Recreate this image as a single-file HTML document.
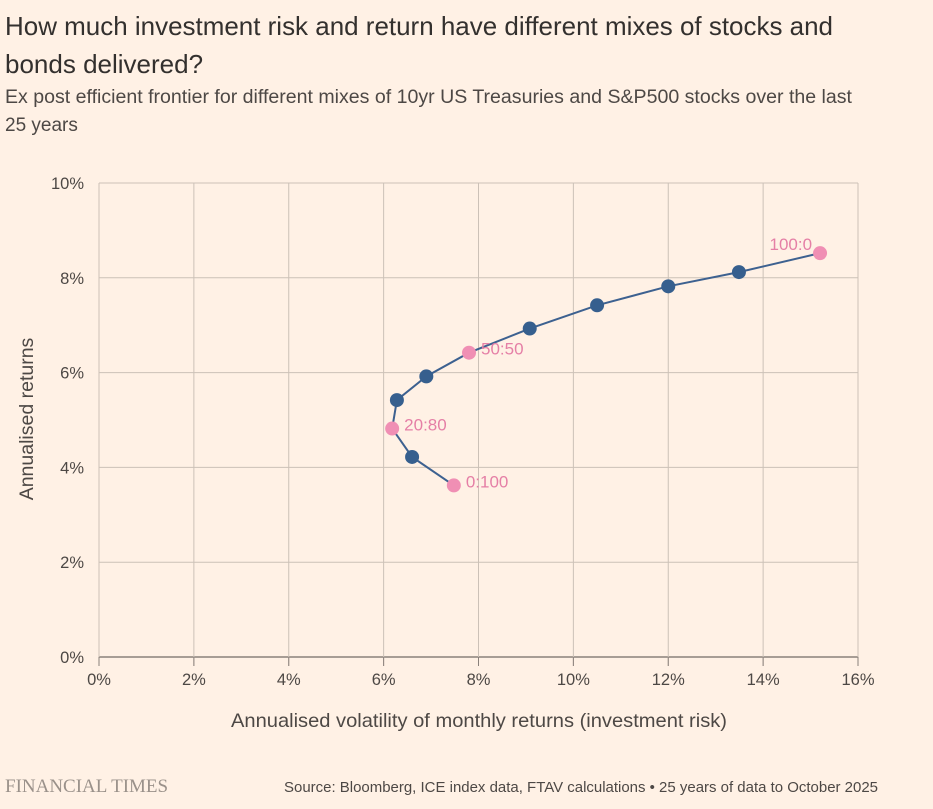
<!DOCTYPE html>
<html><head><meta charset="utf-8"><style>
body{margin:0;background:#FFF1E5;width:933px;height:809px;overflow:hidden;font-family:"Liberation Sans",sans-serif;color:#33302E}
</style></head><body>
<svg width="933" height="809" style="position:absolute;left:0;top:0">
<text x="5" y="35" font-size="26" textLength="828" lengthAdjust="spacingAndGlyphs" fill="#33302E">How much investment risk and return have different mixes of stocks and</text>
<text x="5" y="73" font-size="26" fill="#33302E">bonds delivered?</text>
<text x="5" y="103" font-size="19" textLength="847" lengthAdjust="spacingAndGlyphs" fill="#4d4845">Ex post efficient frontier for different mixes of 10yr US Treasuries and S&amp;P500 stocks over the last</text>
<text x="5" y="131" font-size="19" fill="#4d4845">25 years</text>
<g id="grid"></g>
<g id="marks"></g>
<text transform="translate(33,419) rotate(-90)" text-anchor="middle" font-size="19.5" fill="#4d4845">Annualised returns</text>
<text x="479" y="727" text-anchor="middle" font-size="19.5" textLength="496" lengthAdjust="spacingAndGlyphs" fill="#4d4845">Annualised volatility of monthly returns (investment risk)</text>
<text x="5" y="792" font-family="Liberation Serif,serif" font-size="19" fill="#9a918a">FINANCIAL TIMES</text>
<text x="878" y="792" text-anchor="end" font-size="15" textLength="594" lengthAdjust="spacingAndGlyphs" fill="#4d4845">Source: Bloomberg, ICE index data, FTAV calculations • 25 years of data to October 2025</text>
</svg>
<script>
const xTicks=[0,2,4,6,8,10,12,14,16];
const yTicks=[0,2,4,6,8,10];
const risk=[7.48,6.6,6.18,6.28,6.9,7.8,9.08,10.5,12.0,13.49,15.2];
const ret=[3.62,4.22,4.82,5.42,5.92,6.42,6.93,7.42,7.82,8.12,8.52];
const labels=["0:100","","20:80","","","50:50","","","","","100:0"];
const NS="http://www.w3.org/2000/svg";
const X=v=>99+v*(858-99)/16, Y=v=>657-v*(657-183)/10;
function mk(t,a,p){const e=document.createElementNS(NS,t);for(const k in a)e.setAttribute(k,a[k]);p.appendChild(e);return e;}
const g=document.getElementById('grid'),m=document.getElementById('marks');
yTicks.forEach(t=>{
 const l=mk('line',{x1:99,x2:858,y1:Y(t),y2:Y(t),stroke:t===0?'#8a817b':'#ccc1b7','stroke-width':t===0?1.5:1},g);
 
 
 const tx=mk('text',{x:84,y:Y(t)+6,'text-anchor':'end','font-size':16.5,fill:'#4d4845'},g);tx.textContent=t+'%';
 
 
});
xTicks.forEach(t=>{
 const l=mk('line',{x1:X(t),x2:X(t),y1:183,y2:666,stroke:'#ccc1b7','stroke-width':1},g);
 
 
 mk('line',{x1:X(t),x2:X(t),y1:657,y2:666,stroke:'#8a817b','stroke-width':1},g);
 const tx=mk('text',{x:X(t),y:685,'text-anchor':'middle','font-size':16.5,fill:'#4d4845'},g);tx.textContent=t+'%';
 
 
});
const line=mk('polyline',{points:risk.map((r,i)=>X(r)+','+Y(ret[i])).join(' '),fill:'none',stroke:'#3d6190','stroke-width':2},m);


risk.forEach((r,i)=>{
 const pink=labels[i]!=='';
 const c=mk('circle',{cx:X(r),cy:Y(ret[i]),r:7,fill:pink?'#f08fb4':'#365f8e'},m);
 
 
 if(pink){
  const last=i===risk.length-1;
  const t=mk('text',{x:last?X(r)-8:X(r)+12,y:Y(ret[i])+(last?-3:2),'text-anchor':last?'end':'start','font-size':17,fill:'#e57fa6'},m);
  t.textContent=labels[i];
  
  
 }
});
</script>
</body></html>
